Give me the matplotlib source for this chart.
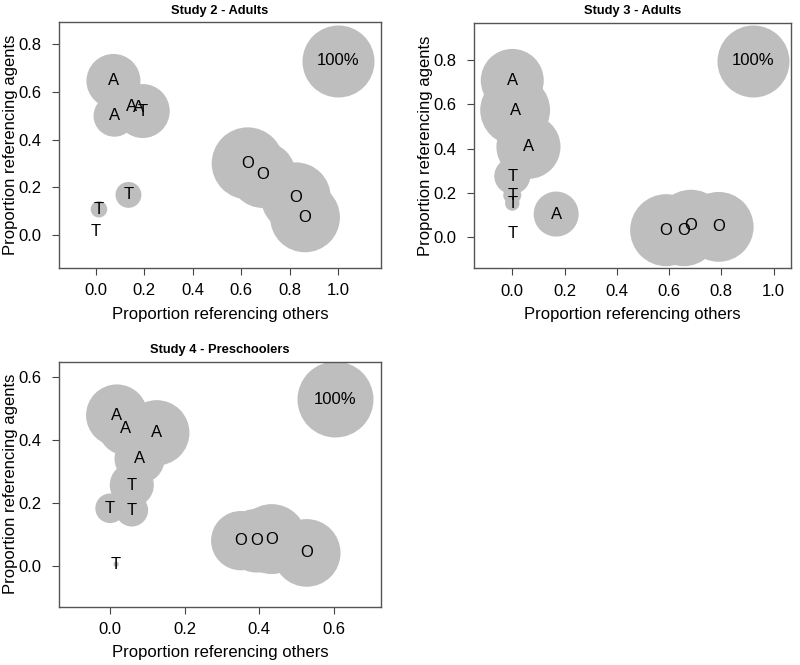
import matplotlib
matplotlib.use("Agg")
import matplotlib.pyplot as plt
import numpy as np

plt.rcParams['font.family'] = ['Liberation Sans', 'DejaVu Sans']

# Study 2 - Adults
s2_lab = ['A', 'A', 'A', 'A', 'T', 'T', 'T', 'T', 'O', 'O', 'O', 'O']
s2_x = [0.072, 0.076, 0.147, 0.175, 0.193, 0.134, 0.012, -0.001, 0.627, 0.689, 0.826, 0.864]
s2_y = [0.646, 0.500, 0.541, 0.536, 0.520, 0.169, 0.109, 0.015, 0.301, 0.253, 0.159, 0.075]
s2_w = [0.75, 0.58, 0.50, 0.50, 0.75, 0.36, 0.23, 0.0, 1.0, 0.92, 0.97, 0.97]
s2_ref = (1.001, 0.731)

# Study 3 - Adults
s3_lab = ['A', 'A', 'A', 'A', 'T', 'T', 'T', 'T', 'O', 'O', 'O', 'O']
s3_x = [0.0, 0.011, 0.062, 0.168, 0.0, 0.0, 0.0, 0.0, 0.589, 0.656, 0.684, 0.790]
s3_y = [0.709, 0.574, 0.408, 0.103, 0.275, 0.189, 0.151, 0.015, 0.030, 0.030, 0.050, 0.045]
s3_w = [0.875, 0.97, 0.89, 0.625, 0.5, 0.25, 0.2, 0.0, 1.0, 1.0, 1.0, 0.97]
s3_ref = (0.92, 0.797)

# Study 4 - Preschoolers
s4_lab = ['A', 'A', 'A', 'A', 'T', 'T', 'T', 'T', 'O', 'O', 'O', 'O']
s4_x = [0.018, 0.040, 0.125, 0.079, 0.058, 0.0, 0.058, 0.016, 0.350, 0.393, 0.433, 0.527]
s4_y = [0.479, 0.437, 0.423, 0.341, 0.257, 0.183, 0.177, 0.005, 0.080, 0.080, 0.085, 0.041]
s4_w = [0.81, 0.70, 0.86, 0.66, 0.58, 0.39, 0.43, 0.07, 0.78, 0.84, 0.92, 0.89]
s4_ref = (0.603, 0.529)

DPI = 100
fig = plt.figure(figsize=(8, 6.65), dpi=DPI)


def panel(rect, title, lab, x, y, w, ref, r100, xlim, ylim, xticks, yticks):
    ax = fig.add_axes(rect)
    # circle radius in pixels -> scatter size in pt^2
    sizes = [(2 * wi * r100 * 72 / DPI) ** 2 for wi in w]
    ax.scatter(x, y, s=sizes, color='#BEBEBE', linewidths=0, zorder=1)
    ax.scatter([ref[0]], [ref[1]], s=[(2 * r100 * 72 / DPI) ** 2],
               color='#BEBEBE', linewidths=0, zorder=1)
    for xi, yi, t in zip(x, y, lab):
        ax.text(xi, yi, t, ha='center', va='center', fontsize=12, zorder=2)
    ax.text(ref[0], ref[1], '100%', ha='center', va='center', fontsize=12, zorder=2)
    ax.set_xlim(*xlim)
    ax.set_ylim(*ylim)
    ax.set_xticks(xticks)
    ax.set_yticks(yticks)
    ax.set_xticklabels(['%.1f' % v for v in xticks])
    ax.set_yticklabels(['%.1f' % v for v in yticks])
    ax.tick_params(direction='out', length=5, width=0.8, color='#444444',
                   labelsize=12)
    ax.tick_params(axis='x', pad=6)
    ax.tick_params(axis='y', pad=7.5)
    for sp in ax.spines.values():
        sp.set_color('#555555')
        sp.set_linewidth(1)
    ax.set_title(title, fontsize=9.3, fontweight='bold', pad=6)
    ax.set_xlabel('Proportion referencing others', fontsize=12, labelpad=6)
    ax.set_ylabel('Proportion referencing agents', fontsize=12)
    ax.yaxis.set_label_coords(-0.127, 0.5)
    return ax


panel([0.0738, 0.597, 0.4024, 0.370], 'Study 2 - Adults',
      s2_lab, s2_x, s2_y, s2_w, s2_ref, 36,
      (-0.153, 1.178), (-0.137, 0.893),
      [0.0, 0.2, 0.4, 0.6, 0.8, 1.0], [0.0, 0.2, 0.4, 0.6, 0.8])

panel([0.592, 0.5965, 0.3968, 0.3695], 'Study 3 - Adults',
      s3_lab, s3_x, s3_y, s3_w, s3_ref, 36,
      (-0.148, 1.067), (-0.143, 0.971),
      [0.0, 0.2, 0.4, 0.6, 0.8, 1.0], [0.0, 0.2, 0.4, 0.6, 0.8])

panel([0.0738, 0.0877, 0.4024, 0.3683], 'Study 4 - Preschoolers',
      s4_lab, s4_x, s4_y, s4_w, s4_ref, 38,
      (-0.137, 0.726), (-0.130, 0.649),
      [0.0, 0.2, 0.4, 0.6], [0.0, 0.2, 0.4, 0.6])

fig.savefig('out.png', dpi=DPI)
